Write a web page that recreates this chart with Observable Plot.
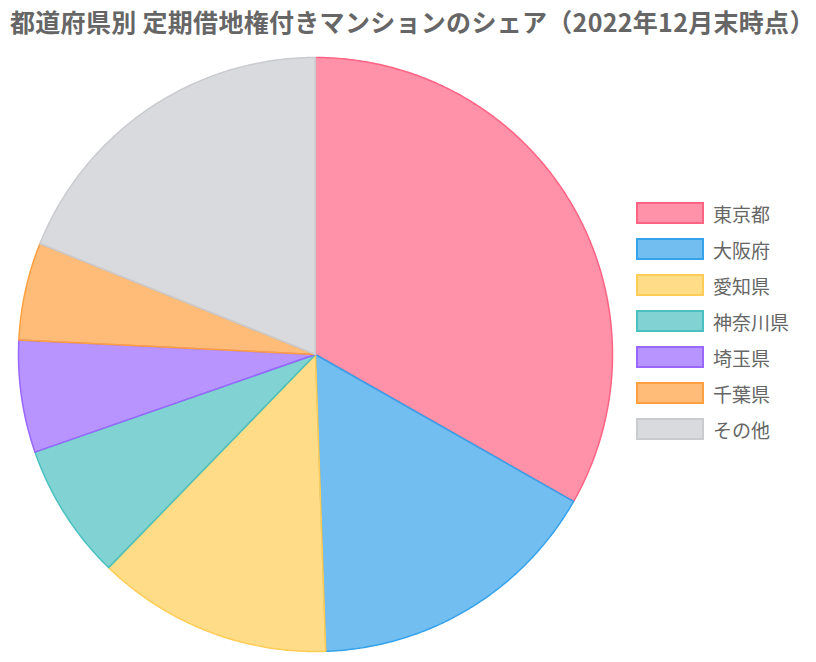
<!DOCTYPE html>
<html><head><meta charset="utf-8">
<script src="https://cdn.jsdelivr.net/npm/d3@7"></script>
<script src="https://cdn.jsdelivr.net/npm/@observablehq/plot@0.6"></script>
<style>
body{margin:0;background:#fff;font-family:"Noto Sans CJK JP","Noto Sans",sans-serif;}
#wrap{position:relative;width:816px;height:662px;overflow:hidden;}
#title{position:absolute;left:10px;top:3px;font-size:25px;font-weight:bold;color:#666;white-space:nowrap;letter-spacing:0.3px;}
#chart{position:absolute;left:0;top:45px;}
#legend{position:absolute;left:636px;top:195px;}
.item{display:flex;align-items:center;height:36px;}
.sw{width:64px;height:18px;border:2px solid;box-sizing:content-box;margin-right:9px;}
.lab{font-size:19px;color:#666;}
</style></head>
<body><div id="wrap"><div id="title"></div><div id="chart"></div><div id="legend"></div></div>
<script>
const title = "都道府県別 定期借地権付きマンションのシェア（2022年12月末時点）";
const categories = ["東京都","大阪府","愛知県","神奈川県","埼玉県","千葉県","その他"];
const shares = [33.2, 16.2, 12.8, 7.4, 6.1, 5.3, 18.9];
const colors = ["rgb(255,99,132)","rgb(54,162,235)","rgb(255,205,86)","rgb(75,192,192)","rgb(153,102,255)","rgb(255,159,64)","rgb(201,203,207)"];

document.getElementById("title").textContent = title;

const W = 816, H = 617, cx = 315, cy = 309, R = 297;
const arcs = d3.pie().sort(null).value(d => d.v)(categories.map((c,i)=>({c, v: shares[i]})));
const pts = [];
arcs.forEach(a => {
  const c = a.data.c;
  pts.push({c, x: cx, y: cy});
  const n = Math.max(2, Math.ceil((a.endAngle - a.startAngle) / (Math.PI/360)));
  for (let k = 0; k <= n; k++) {
    const t = a.startAngle + (a.endAngle - a.startAngle) * k / n;
    pts.push({c, x: cx + R*Math.sin(t), y: cy - R*Math.cos(t)});
  }
  pts.push({c, x: cx, y: cy});
});

const chart = Plot.plot({
  width: W, height: H, margin: 0,
  x: {domain: [0, W], range: [0, W], axis: null},
  y: {domain: [0, H], range: [0, H], axis: null},
  color: {domain: categories, range: colors},
  marks: [
    Plot.line(pts, {x: "x", y: "y", z: "c", fill: "c", stroke: "c", fillOpacity: 0.7, strokeWidth: 1.5, strokeLinejoin: "round"})
  ]
});
document.getElementById("chart").appendChild(chart);

const lg = document.getElementById("legend");
categories.forEach((c,i) => {
  const it = document.createElement("div"); it.className = "item";
  const sw = document.createElement("div"); sw.className = "sw";
  const col = d3.color(colors[i]);
  sw.style.borderColor = colors[i];
  sw.style.background = `rgba(${col.r},${col.g},${col.b},0.7)`;
  const lb = document.createElement("span"); lb.className = "lab"; lb.textContent = c;
  it.appendChild(sw); it.appendChild(lb); lg.appendChild(it);
});
</script></body></html>
